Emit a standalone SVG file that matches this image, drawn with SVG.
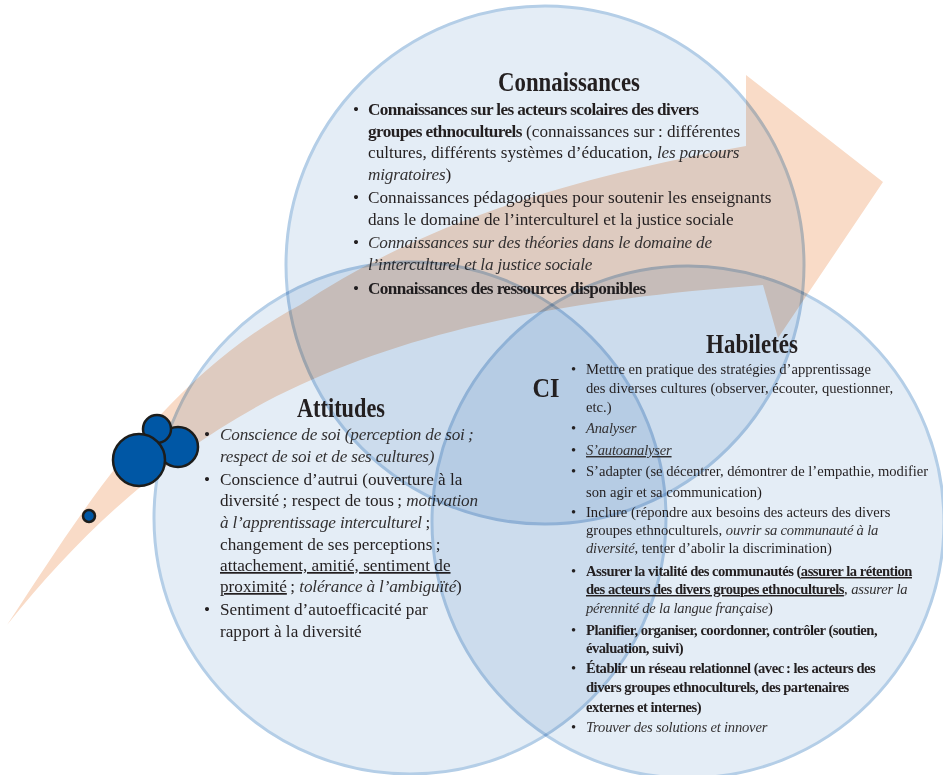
<svg xmlns="http://www.w3.org/2000/svg" width="943" height="775" viewBox="0 0 943 775">
<style>
.circ{fill:#e4edf6;stroke:#b4cee7;stroke-width:3;mix-blend-mode:multiply}
.t{font-family:"Liberation Serif","Times New Roman",serif;fill:#231f20}
.c{font-size:17.2px}
.h{font-size:14.6px}
.b{font-weight:bold;letter-spacing:-0.6px}
.h .b{letter-spacing:-0.5px}
.i{font-style:italic;letter-spacing:-0.2px;fill:#333132}
.u{text-decoration:underline}
.title{font-size:27px;font-weight:bold;text-anchor:middle}
.dot{fill:#0057a5;stroke:#1d1d1b;stroke-width:2.5}
</style>
<rect width="943" height="775" fill="#ffffff"/>
<g id="arrow">
<path d="M7,625 C80,515 160,380 300,305 C420,225 560,180 746,146 L746,75 L883,182 L778,338 L763,285 C560,300 420,330 300,385 C190,435 90,520 7,625 Z" fill="#f9dbc7"/>
</g>
<g id="node-connaissances">
<circle class="circ" cx="545" cy="265" r="259"/>
<text class="t title" x="569" y="91" textLength="142" lengthAdjust="spacingAndGlyphs">Connaissances</text>
<g class="t c">
<text x="353" y="115">•</text>
<text x="368" y="115"><tspan class="b">Connaissances sur les acteurs scolaires des divers</tspan></text>
<text x="368" y="137"><tspan class="b">groupes ethnoculturels</tspan> (connaissances sur&#8201;: différentes</text>
<text x="368" y="158">cultures, différents systèmes d’éducation, <tspan class="i">les parcours</tspan></text>
<text x="368" y="180"><tspan class="i">migratoires</tspan>)</text>
<text x="353" y="203">•</text>
<text x="368" y="203">Connaissances pédagogiques pour soutenir les enseignants</text>
<text x="368" y="225">dans le domaine de l’interculturel et la justice sociale</text>
<text x="353" y="248">•</text>
<text x="368" y="248"><tspan class="i">Connaissances sur des théories dans le domaine de</tspan></text>
<text x="368" y="270"><tspan class="i">l’interculturel et la justice sociale</tspan></text>
<text x="353" y="294">•</text>
<text x="368" y="294"><tspan class="b">Connaissances des ressources disponibles</tspan></text>
</g>
</g>
<g id="node-attitudes">
<circle class="circ" cx="410" cy="518" r="256"/>
<text class="t title" x="341" y="417" textLength="88" lengthAdjust="spacingAndGlyphs">Attitudes</text>
<g class="t c">
<text x="204" y="440">•</text>
<text x="220" y="440"><tspan class="i">Conscience de soi (perception de soi&#8201;;</tspan></text>
<text x="220" y="462"><tspan class="i">respect de soi et de ses cultures)</tspan></text>
<text x="204" y="485">•</text>
<text x="220" y="485">Conscience d’autrui (ouverture à la</text>
<text x="220" y="506">diversité&#8201;; respect de tous&#8201;; <tspan class="i">motivation</tspan></text>
<text x="220" y="528"><tspan class="i">à l’apprentissage interculturel</tspan>&#8201;;</text>
<text x="220" y="550">changement de ses perceptions&#8201;;</text>
<text x="220" y="571"><tspan class="u">attachement, amitié, sentiment de</tspan></text>
<text x="220" y="592"><tspan class="u">proximité</tspan>&#8201;; <tspan class="i">tolérance à l’ambiguïté</tspan>)</text>
<text x="204" y="615">•</text>
<text x="220" y="615">Sentiment d’autoefficacité par</text>
<text x="220" y="637">rapport à la diversité</text>
</g>
</g>
<g id="node-habiletes">
<circle class="circ" cx="688" cy="522" r="256"/>
<text class="t title" x="752" y="353" textLength="92" lengthAdjust="spacingAndGlyphs">Habiletés</text>
<g class="t h">
<text x="571" y="374">•</text>
<text x="586" y="374">Mettre en pratique des stratégies d’apprentissage</text>
<text x="586" y="393">des diverses cultures (observer, écouter, questionner,</text>
<text x="586" y="412">etc.)</text>
<text x="571" y="433">•</text>
<text x="586" y="433"><tspan class="i">Analyser</tspan></text>
<text x="571" y="455">•</text>
<text x="586" y="455"><tspan class="i u">S’autoanalyser</tspan></text>
<text x="571" y="476">•</text>
<text x="586" y="476">S’adapter (se décentrer, démontrer de l’empathie, modifier</text>
<text x="586" y="497">son agir et sa communication)</text>
<text x="571" y="517">•</text>
<text x="586" y="517">Inclure (répondre aux besoins des acteurs des divers</text>
<text x="586" y="535">groupes ethnoculturels, <tspan class="i">ouvrir sa communauté à la</tspan></text>
<text x="586" y="553"><tspan class="i">diversité</tspan>, tenter d’abolir la discrimination)</text>
<text x="571" y="576">•</text>
<text x="586" y="576"><tspan class="b">Assurer la vitalité des communautés (</tspan><tspan class="b u">assurer la rétention</tspan></text>
<text x="586" y="594"><tspan class="b u">des acteurs des divers groupes ethnoculturels</tspan>, <tspan class="i">assurer la</tspan></text>
<text x="586" y="613"><tspan class="i">pérennité de la langue française</tspan>)</text>
<text x="571" y="635">•</text>
<text x="586" y="635"><tspan class="b">Planifier, organiser, coordonner, contrôler (soutien,</tspan></text>
<text x="586" y="653"><tspan class="b">évaluation, suivi)</tspan></text>
<text x="571" y="673">•</text>
<text x="586" y="673"><tspan class="b">Établir un réseau relationnel (avec&#8201;: les acteurs des</tspan></text>
<text x="586" y="692"><tspan class="b">divers groupes ethnoculturels, des partenaires</tspan></text>
<text x="586" y="712"><tspan class="b">externes et internes)</tspan></text>
<text x="571" y="732">•</text>
<text x="586" y="732"><tspan class="i">Trouver des solutions et innover</tspan></text>
</g>
</g>
<g id="node-ci">
<text class="t title" x="546" y="397" textLength="27" lengthAdjust="spacingAndGlyphs">CI</text>
</g>
<g id="dots">
<circle class="dot" cx="178" cy="447" r="20"/>
<circle class="dot" cx="157" cy="429" r="14"/>
<circle class="dot" cx="139" cy="460" r="26"/>
<circle class="dot" cx="89" cy="516" r="6"/>
</g>
</svg>
